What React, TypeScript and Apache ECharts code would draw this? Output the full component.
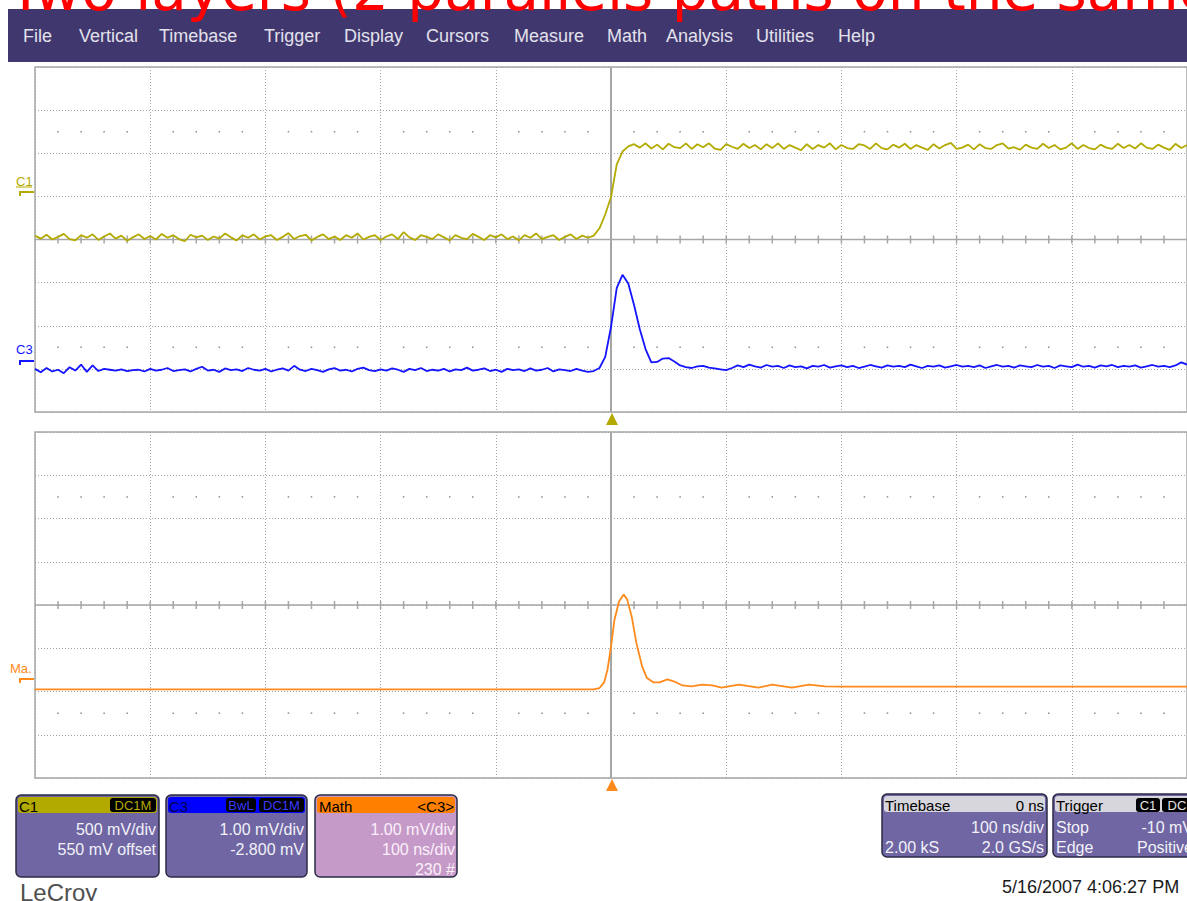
import React, { useEffect, useRef } from "react";
import * as echarts from "echarts";

// ---- acquisition / scale settings (from the on-screen info boxes) ----
const SAMPLE_START_NS = -500;
const SAMPLE_STEP_NS = 5;
const TIME_MIN_NS = -500;
const TIME_MAX_NS = 500;
const TIME_DIV_NS = 100;

const C1_MV_PER_DIV = 500;
const C1_OFFSET_MV = 550;
const C3_MV_PER_DIV = 1;
const C3_OFFSET_MV = -2.8;
const MATH_MV_PER_DIV = 1;
const MATH_OFFSET_MV = -1.7;

// ---- C1 trace (mV), 5 ns per sample from -500 ns ----
const c1mV = [
  -505, -540, -495, -550, -520, -485, -545, -560, -500, -530,
  -490, -555, -515, -480, -540, -505, -565, -525, -490, -545,
  -510, -550, -485, -530, -500, -545, -570, -495, -525, -505,
  -555, -515, -540, -480, -525, -560, -500, -530, -490, -550,
  -515, -500, -555, -520, -475, -545, -510, -495, -560, -520,
  -490, -545, -515, -555, -500, -530, -480, -550, -520, -500,
  -555, -515, -490, -545, -465, -525, -555, -500, -520, -545,
  -490, -525, -560, -500, -530, -545, -485, -520, -555, -500,
  -525, -490, -545, -515, -560, -500, -530, -480, -545, -520,
  -500, -555, -520, -490, -545, -505, -530,
  -505, -420, -260, -57, 320, 470, 530,
  555, 515, 565, 505, 550, 495, 560, 520, 510, 565,
  500, 555, 520, 565, 505, 490, 555, 525, 500, 560,
  510, 545, 495, 555, 510, 565, 500, 545, 515, 485,
  555, 500, 545, 515, 565, 495, 545, 510, 500, 555,
  540, 500, 565, 510, 495, 550, 515, 560, 500, 545,
  515, 490, 555, 505, 545, 570, 500, 515, 550, 495,
  555, 510, 500, 545, 565, 505, 520, 490, 550, 515,
  500, 560, 510, 545, 495, 515, 565, 500, 545, 510,
  495, 550, 515, 500, 560, 510, 545, 505, 565, 515,
  500, 550, 515, 490, 560, 510, 545,
];

// ---- C3 trace (mV), 5 ns per sample from -500 ns ----
const c3mV = [
  -0.2, -0.28, -0.18, -0.26, -0.22, -0.3, -0.16, -0.24, -0.1, -0.27,
  -0.12, -0.25, -0.2, -0.22, -0.24, -0.21, -0.25, -0.23, -0.22, -0.26,
  -0.2, -0.24, -0.22, -0.18, -0.25, -0.23, -0.21, -0.26, -0.2, -0.15,
  -0.24, -0.22, -0.27, -0.19, -0.23, -0.21, -0.25, -0.18, -0.22, -0.24,
  -0.2, -0.26, -0.22, -0.19, -0.24, -0.13, -0.22, -0.25, -0.2, -0.23,
  -0.27, -0.21, -0.18, -0.24, -0.22, -0.26, -0.2, -0.17, -0.23, -0.25,
  -0.21, -0.24, -0.19, -0.22, -0.27, -0.2, -0.23, -0.18, -0.25, -0.22,
  -0.24, -0.2, -0.26, -0.21, -0.23, -0.17, -0.24, -0.22, -0.19, -0.25,
  -0.22, -0.27, -0.2, -0.23, -0.21, -0.25, -0.19, -0.24, -0.22, -0.18,
  -0.26, -0.21, -0.23, -0.25, -0.2, -0.24, -0.27,
  -0.25, -0.18, 0.08, 0.77, 1.68, 1.98, 1.78, 1.28, 0.72, 0.26,
  -0.05, -0.04, 0.04, 0.05, -0.03, -0.12, -0.16, -0.18, -0.14, -0.13,
  -0.17, -0.19, -0.21, -0.23,
  -0.18, -0.12, -0.16, -0.1, -0.14, -0.17, -0.11, -0.15, -0.13, -0.18,
  -0.12, -0.16, -0.14, -0.19, -0.13, -0.15, -0.11, -0.17, -0.14, -0.12,
  -0.16, -0.13, -0.18, -0.15, -0.11, -0.14, -0.17, -0.12, -0.15, -0.13,
  -0.16, -0.1, -0.14, -0.18, -0.13, -0.15, -0.12, -0.17, -0.14, -0.11,
  -0.15, -0.13, -0.16, -0.12, -0.18, -0.14, -0.11, -0.15, -0.13, -0.17,
  -0.12, -0.14, -0.16, -0.11, -0.15, -0.13, -0.18, -0.12, -0.14, -0.16,
  -0.1, -0.15, -0.13, -0.17, -0.12, -0.14, -0.11, -0.16, -0.13, -0.15,
  -0.12, -0.17, -0.14, -0.11, -0.15, -0.13, -0.16, -0.12, -0.05, -0.1,
];

// ---- Math trace (filtered C3) ----
const mathNs = [
  -500, -15, -10, -6, -3, 0, 3, 7, 11, 14, 18, 22, 27, 31, 37, 42, 49, 55, 62, 70,
  79, 88, 96, 111, 128, 140, 157, 172, 186, 200, 500,
];
const mathMv = [
  -0.25, -0.25, -0.22, -0.09, 0.21, 0.74, 1.36, 1.78, 1.94, 1.83, 1.43, 0.83, 0.28,
  0.02, -0.09, -0.09, -0.02, -0.07, -0.16, -0.18, -0.14, -0.16, -0.21, -0.14, -0.21,
  -0.14, -0.21, -0.14, -0.18, -0.185, -0.185,
];

// ---- texts ----
const menuItems = ["File", "Vertical", "Timebase", "Trigger", "Display", "Cursors", "Measure", "Math", "Analysis", "Utilities", "Help"];
const titleText = "Two layers (2 parallels paths on the same layer)";
const c1BoxLines = ["500 mV/div", "550 mV offset"];
const c3BoxLines = ["1.00 mV/div", "-2.800 mV"];
const mathBoxLines = ["1.00 mV/div", "100 ns/div", "230 #"];
const dateText = "5/16/2007 4:06:27 PM";

const C1_COLOR = "#b3aa00";
const C3_COLOR = "#1414ff";
const MATH_COLOR = "#ff8a1c";
const GRID_COLOR = "#a6a6a6";
const BOX_BODY = "#6f66a3";
const FONT = '"Liberation Sans", Arial, sans-serif';

const timeAt = (i: number) => SAMPLE_START_NS + i * SAMPLE_STEP_NS;

function decorRenderItem(params: any, api: any) {
  const children: any[] = [];
  const [x0, yc] = api.coord([TIME_MIN_NS, 0]);
  const [x1] = api.coord([TIME_MAX_NS, 0]);
  const [xc, yTop] = api.coord([0, 4]);
  const [, yBot] = api.coord([0, -4]);
  children.push({ type: "line", shape: { x1: x0, y1: yc, x2: x1, y2: yc }, style: { stroke: GRID_COLOR, lineWidth: 1.5 } });
  children.push({ type: "line", shape: { x1: xc, y1: yTop, x2: xc, y2: yBot }, style: { stroke: GRID_COLOR, lineWidth: 2 } });
  for (let t = TIME_MIN_NS + 20; t < TIME_MAX_NS; t += 20) {
    if (t === 0) continue;
    const [x] = api.coord([t, 0]);
    children.push({ type: "line", shape: { x1: x, y1: yc - 4, x2: x, y2: yc + 4 }, style: { stroke: GRID_COLOR, lineWidth: 1.5 } });
    if (t % TIME_DIV_NS !== 0) {
      for (const row of [2.5, -2.5]) {
        const [dx, dy] = api.coord([t, row]);
        children.push({ type: "rect", shape: { x: dx - 0.75, y: dy - 0.75, width: 1.5, height: 1.5 }, style: { fill: "#8c8c8c" } });
      }
    }
  }
  return { type: "group", children };
}

function txt(text: string, x: number, y: number, size: number, fill: string, align = "left", z = 12, family = FONT) {
  return {
    type: "text",
    x,
    y,
    z,
    style: { text, font: `${size}px ${family}`, fill, textAlign: align, align, textVerticalAlign: "middle", verticalAlign: "middle" },
  };
}

function box(x: number, y: number, w: number, h: number, headFill: string, bodyFill: string) {
  return [
    { type: "rect", z: 10, shape: { x, y, width: w, height: h, r: 5 }, style: { fill: bodyFill, stroke: "#2b2b45", lineWidth: 1.5 } },
    { type: "rect", z: 11, shape: { x: x + 2, y: y + 2, width: w - 4, height: 16, r: 3 }, style: { fill: headFill } },
  ];
}

function badge(x: number, w: number, y: number, label: string, color: string) {
  return [
    { type: "rect", z: 12, shape: { x, y, width: w, height: 14, r: 3 }, style: { fill: "#000000" } },
    txt(label, x + w / 2, y + 7.5, 13, color, "center", 13),
  ];
}

function buildGraphic() {
  const g: any[] = [];
  // menu bar
  g.push({ type: "rect", z: 10, shape: { x: 8, y: 9, width: 1190, height: 53 }, style: { fill: "#41376f" } });
  const menuX = [23, 79, 159, 264, 344, 426, 514, 607, 666, 756, 838];
  menuItems.forEach((m, i) => g.push(txt(m, menuX[i], 36, 18, "#e2e2ec", "left", 11)));
  // red handwritten title (mostly clipped by the top of the page)
  g.push({
    type: "text",
    x: 8,
    y: -10,
    z: 30,
    style: { text: titleText, font: '58px "DejaVu Sans", sans-serif', fill: "#ff0000", textVerticalAlign: "middle", verticalAlign: "middle" },
  });

  // trace labels and ground markers
  g.push(txt("C1", 16, 181, 13, C1_COLOR));
  g.push({ type: "line", z: 12, shape: { x1: 16, y1: 187, x2: 32, y2: 187 }, style: { stroke: C1_COLOR, lineWidth: 1 } });
  g.push({ type: "polyline", z: 12, shape: { points: [[20, 196], [20, 192], [34, 192]] }, style: { stroke: C1_COLOR, lineWidth: 2, fill: "none" } });
  g.push(txt("C3", 16, 349, 13, C3_COLOR));
  g.push({ type: "polyline", z: 12, shape: { points: [[20, 365], [20, 361], [34, 361]] }, style: { stroke: C3_COLOR, lineWidth: 2, fill: "none" } });
  g.push(txt("Ma.", 10, 668, 13, MATH_COLOR));
  g.push({ type: "polyline", z: 12, shape: { points: [[20, 683], [20, 679], [34, 679]] }, style: { stroke: MATH_COLOR, lineWidth: 2, fill: "none" } });

  // trigger position markers
  g.push({ type: "polygon", z: 12, shape: { points: [[606, 425], [618, 425], [612, 413]] }, style: { fill: C1_COLOR } });
  g.push({ type: "polygon", z: 12, shape: { points: [[606, 791], [618, 791], [612, 779]] }, style: { fill: MATH_COLOR } });

  // C1 box
  g.push(...box(16, 795, 143, 82, C1_COLOR, BOX_BODY));
  g.push(txt("C1", 19, 806, 15, "#000000"));
  g.push(...badge(110, 46, 798, "DC1M", C1_COLOR));
  c1BoxLines.forEach((l, i) => g.push(txt(l, 156, 829 + i * 20, 16, "#f2f2f8", "right")));
  // C3 box
  g.push(...box(166, 795, 141, 82, "#0000ff", BOX_BODY));
  g.push(txt("C3", 169, 806, 15, "#000050"));
  g.push(...badge(226, 30, 798, "BwL", "#3a3aff"));
  g.push(...badge(259, 45, 798, "DC1M", "#3a3aff"));
  c3BoxLines.forEach((l, i) => g.push(txt(l, 304, 829 + i * 20, 16, "#f2f2f8", "right")));
  // Math box
  g.push(...box(315, 795, 142, 82, "#ff8000", "#c69ac8"));
  g.push(txt("Math", 319, 806, 15, "#000000"));
  g.push(txt("<C3>", 454, 806, 15, "#000000", "right"));
  mathBoxLines.forEach((l, i) => g.push(txt(l, 455, 829 + i * 20, 16, "#fbf0fb", "right")));
  // Timebase box
  g.push(...box(882, 794, 165, 63, "#d6d6dc", BOX_BODY));
  g.push(txt("Timebase", 885, 805, 15, "#000000"));
  g.push(txt("0 ns", 1044, 805, 15, "#000000", "right"));
  g.push(txt("100 ns/div", 1044, 827, 16, "#f2f2f8", "right"));
  g.push(txt("2.00 kS", 885, 847, 16, "#f2f2f8"));
  g.push(txt("2.0 GS/s", 1044, 847, 16, "#f2f2f8", "right"));
  // Trigger box (cut by the right edge, as in the screenshot)
  g.push(...box(1053, 794, 160, 63, "#d6d6dc", BOX_BODY));
  g.push(txt("Trigger", 1056, 805, 15, "#000000"));
  g.push(...badge(1136, 24, 798, "C1", "#e6e6e6"));
  g.push(...badge(1162, 30, 798, "DC", "#e6e6e6"));
  g.push(txt("Stop", 1056, 827, 16, "#f2f2f8"));
  g.push(txt("-10 mV", 1193, 827, 16, "#f2f2f8", "right"));
  g.push(txt("Edge", 1056, 847, 16, "#f2f2f8"));
  g.push(txt("Positive", 1193, 847, 16, "#f2f2f8", "right"));

  // logo & date
  g.push(txt("LeCroy", 20, 892, 24, "#505050"));
  g.push(txt(dateText, 1002, 887, 18, "#1a1a1a"));
  return g;
}

const dottedSplit = { show: true, lineStyle: { color: GRID_COLOR, type: [1, 2] as any, width: 1 } };

function buildOption() {
  const xBase = {
    type: "value",
    min: TIME_MIN_NS,
    max: TIME_MAX_NS,
    interval: TIME_DIV_NS,
    axisLabel: { show: false },
    axisTick: { show: false },
    axisLine: { show: false },
    splitLine: dottedSplit,
  };
  const divAxis = (gridIndex: number) => ({
    type: "value",
    gridIndex,
    min: -4,
    max: 4,
    interval: 1,
    axisLabel: { show: false },
    axisTick: { show: false },
    axisLine: { show: false },
    splitLine: dottedSplit,
  });
  const traceAxis = (gridIndex: number, perDiv: number, offset: number) => ({
    type: "value",
    gridIndex,
    show: false,
    min: -offset - 4 * perDiv,
    max: -offset + 4 * perDiv,
    splitLine: { show: false },
  });
  return {
    animation: false,
    backgroundColor: "#ffffff",
    grid: [
      { left: 35, top: 67, width: 1153, height: 345, show: true, borderColor: GRID_COLOR, borderWidth: 1.5, backgroundColor: "#ffffff" },
      { left: 35, top: 432, width: 1153, height: 346, show: true, borderColor: GRID_COLOR, borderWidth: 1.5, backgroundColor: "#ffffff" },
    ],
    xAxis: [
      { ...xBase, gridIndex: 0 },
      { ...xBase, gridIndex: 1 },
    ],
    yAxis: [
      divAxis(0),
      traceAxis(0, C1_MV_PER_DIV, C1_OFFSET_MV),
      traceAxis(0, C3_MV_PER_DIV, C3_OFFSET_MV),
      divAxis(1),
      traceAxis(1, MATH_MV_PER_DIV, MATH_OFFSET_MV),
    ],
    series: [
      { type: "custom", xAxisIndex: 0, yAxisIndex: 0, data: [[0, 0]], renderItem: decorRenderItem, z: 1, silent: true },
      { type: "custom", xAxisIndex: 1, yAxisIndex: 3, data: [[0, 0]], renderItem: decorRenderItem, z: 1, silent: true },
      {
        type: "line",
        name: "C1",
        xAxisIndex: 0,
        yAxisIndex: 1,
        data: c1mV.map((v, i) => [timeAt(i), v]),
        symbol: "none",
        lineStyle: { color: C1_COLOR, width: 1.8 },
        z: 5,
        silent: true,
      },
      {
        type: "line",
        name: "C3",
        xAxisIndex: 0,
        yAxisIndex: 2,
        data: c3mV.map((v, i) => [timeAt(i), v]),
        symbol: "none",
        lineStyle: { color: C3_COLOR, width: 1.8 },
        z: 5,
        silent: true,
      },
      {
        type: "line",
        name: "Math",
        xAxisIndex: 1,
        yAxisIndex: 4,
        data: mathNs.map((t, i) => [t, mathMv[i]]),
        symbol: "none",
        lineStyle: { color: MATH_COLOR, width: 1.8 },
        z: 5,
        silent: true,
      },
    ],
    graphic: buildGraphic(),
  };
}

export default function App() {
  const ref = useRef<HTMLDivElement>(null);
  useEffect(() => {
    if (!ref.current) return;
    const chart = echarts.init(ref.current, null, { renderer: "svg" });
    chart.setOption(buildOption() as any);
    return () => chart.dispose();
  }, []);
  return <div ref={ref} style={{ position: "absolute", left: 0, top: 0, width: 1187, height: 901, background: "#ffffff" }} />;
}
